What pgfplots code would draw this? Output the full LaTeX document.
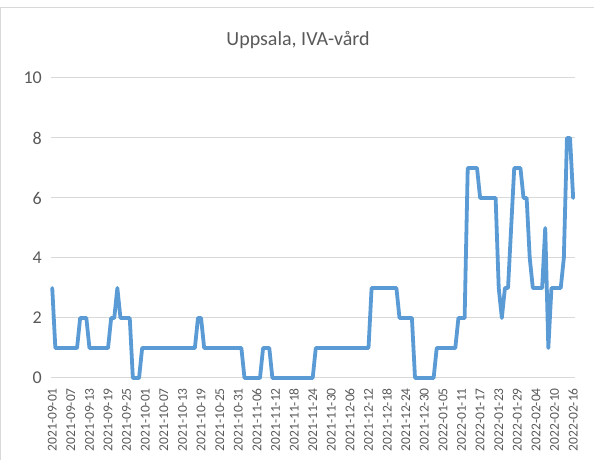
\documentclass[border=0pt]{standalone}
\usepackage{pgfplots}
\pgfplotsset{compat=1.18}
\usepackage{fontspec}
\setmainfont{Carlito}
\definecolor{txtgray}{HTML}{595959}
\definecolor{gridgray}{HTML}{D9D9D9}
\definecolor{lineblue}{HTML}{5B9BD5}
\begin{document}
\begin{tikzpicture}[x=1pt,y=1pt]
\useasboundingbox (0,0) rectangle (594,460);
\draw[gridgray, line width=0.8pt] (0.4,-1) -- (0.4,452.5) -- (594,452.5);
\node[text=txtgray, font=\fontsize{20}{24}\selectfont] at (298,420) {Uppsala, IVA-vård};
\begin{axis}[
  at={(51pt,82pt)}, anchor=south west,
  scale only axis, width=524pt, height=300pt,
  xmin=-0.4, xmax=168.6, ymin=0, ymax=10,
  axis line style={draw=none},
  tick style={draw=none},
  ymajorgrids, grid style={gridgray, line width=1pt},
  ytick={0,2,...,10},
  xtick={0,6,...,168},
  xticklabels={2021-09-01,2021-09-07,2021-09-13,2021-09-19,2021-09-25,2021-10-01,2021-10-07,2021-10-13,2021-10-19,2021-10-25,2021-10-31,2021-11-06,2021-11-12,2021-11-18,2021-11-24,2021-11-30,2021-12-06,2021-12-12,2021-12-18,2021-12-24,2021-12-30,2022-01-05,2022-01-11,2022-01-17,2022-01-23,2022-01-29,2022-02-04,2022-02-10,2022-02-16},
  xticklabel style={rotate=90, anchor=east, inner sep=0pt, text=txtgray, font=\fontsize{13.5}{15}\selectfont},
  xticklabel shift=10pt,
  yticklabel style={anchor=east, inner sep=0pt, text=txtgray, font=\fontsize{18}{20}\selectfont},
  yticklabel shift=9pt,
  /pgf/number format/assume math mode=true,
  clip=false,
]
\addplot[lineblue, line width=3.8pt, line join=round, line cap=round] coordinates {
(0,3)(1,1)(2,1)(3,1)(4,1)(5,1)(6,1)(7,1)(8,1)(9,2)(10,2)(11,2)(12,1)(13,1)(14,1)(15,1)(16,1)(17,1)(18,1)(19,2)(20,2)(21,3)(22,2)(23,2)(24,2)(25,2)(26,0)(27,0)(28,0)(29,1)
(30,1)(31,1)(32,1)(33,1)(34,1)(35,1)(36,1)(37,1)(38,1)(39,1)(40,1)(41,1)(42,1)(43,1)(44,1)(45,1)(46,1)(47,2)(48,2)(49,1)(50,1)(51,1)(52,1)(53,1)(54,1)(55,1)(56,1)(57,1)(58,1)(59,1)(60,1)(61,1)
(62,0)(63,0)(64,0)(65,0)(66,0)(67,0)(68,1)(69,1)(70,1)(71,0)(72,0)(73,0)(74,0)(75,0)(76,0)(77,0)(78,0)(79,0)(80,0)(81,0)(82,0)(83,0)(84,0)
(85,1)(86,1)(87,1)(88,1)(89,1)(90,1)(91,1)(92,1)(93,1)(94,1)(95,1)(96,1)(97,1)(98,1)(99,1)(100,1)(101,1)(102,1)
(103,3)(104,3)(105,3)(106,3)(107,3)(108,3)(109,3)(110,3)(111,3)(112,2)(113,2)(114,2)(115,2)(116,2)
(117,0)(118,0)(119,0)(120,0)(121,0)(122,0)(123,0)(124,1)(125,1)(126,1)(127,1)(128,1)(129,1)(130,1)
(131,2)(132,2)(133,2)(134,7)(135,7)(136,7)(137,7)(138,6)(139,6)(140,6)(141,6)(142,6)(143,6)
(144,3)(145,2)(146,3)(147,3)(148,5)(149,7)(150,7)(151,7)(152,6)(153,6)(154,4)(155,3)(156,3)(157,3)(158,3)
(159,5)(160,1)(161,3)(162,3)(163,3)(164,3)(165,4)(166,8)(167,8)(168,6)
};
\end{axis}
\end{tikzpicture}
\end{document}
